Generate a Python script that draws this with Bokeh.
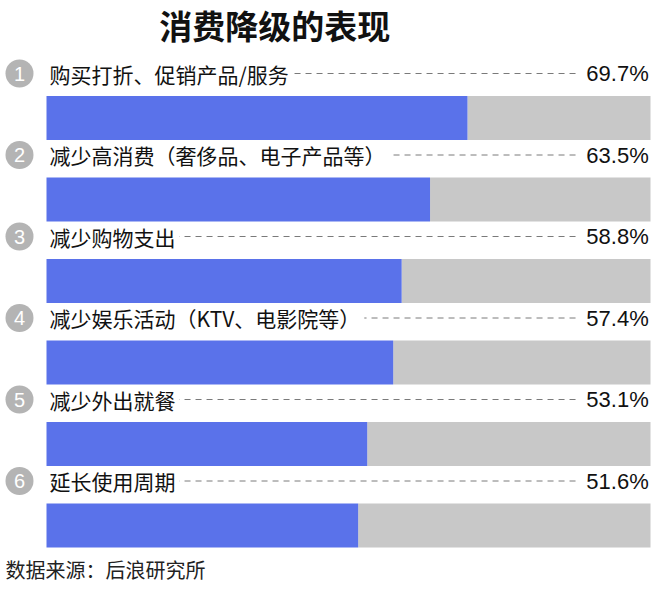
from bokeh.plotting import figure
from bokeh.models import Range1d, ColumnDataSource
from bokeh.core.properties import value
from bokeh.embed import file_html
from bokeh.resources import INLINE

title = "消费降级的表现"
labels = ["购买打折、促销产品/服务", "减少高消费（奢侈品、电子产品等）", "减少购物支出",
          "减少娱乐活动（KTV、电影院等）", "减少外出就餐", "延长使用周期"]
values = [69.7, 63.5, 58.8, 57.4, 53.1, 51.6]
value_labels = ["69.7%", "63.5%", "58.8%", "57.4%", "53.1%", "51.6%"]
ranks = ["1", "2", "3", "4", "5", "6"]
source_note = "数据来源：后浪研究所"

CJK = value("Noto Sans CJK SC")
n = len(labels)
idx = list(range(n))
label_off = 0.546

src = ColumnDataSource(dict(
    y=idx,
    ly=[i - label_off for i in idx],
    v=values,
    full=[100] * n,
    lab=labels,
    vl=value_labels,
    rk=ranks,
))

p = figure(width=652, height=585, output_backend="svg", toolbar_location=None,
           x_range=Range1d(-7.616, 100.331), y_range=Range1d(5.736, -1.4417),
           min_border=0, outline_line_color=None, background_fill_color="white",
           border_fill_color="white")
p.axis.visible = False
p.grid.visible = False

# dashed leader lines
p.segment(x0=1, x1=88.4, y0="ly", y1="ly", line_color="#7a7a7a", line_width=1,
          line_dash="6 5", source=src)

# labels
p.text(x=-0.17, y="ly", text="lab", text_align="left", text_baseline="middle",
       text_color="#111111", text_font=CJK, text_font_size="21px",
       background_fill_color="white", padding=(4, 0), source=src)

# values
p.text(x=99.7, y="ly", text="vl", text_align="right", text_baseline="middle",
       text_color="#111111", text_font=value("Liberation Sans"), text_font_size="22px",
       source=src)

# bars
p.hbar(y="y", left="v", right="full", height=0.54, fill_color="#c8c8c8", line_color=None, source=src)
p.hbar(y="y", left=0, right="v", height=0.54, fill_color="#5a72ea", line_color=None, source=src)

# rank circles
p.scatter(x=-4.47, y="ly", size=28, fill_color="#b4b4b4", line_color=None, source=src)
p.text(x=-4.47, y="ly", text="rk", text_align="center", text_baseline="middle",
       text_color="white", text_font=value("Liberation Sans"), text_font_size="20px", source=src)

# title
p.text(x=[37.8], y=[-1.135], text=[title], text_align="center", text_baseline="middle",
       text_color="#111111", text_font=CJK, text_font_size="33px", text_font_style="bold")

# source note
p.text(x=[-6.79], y=[5.54], text=[source_note], text_align="left", text_baseline="middle",
       text_color="#222222", text_font=CJK, text_font_size="20px")

open("out.html", "w").write(file_html(p, INLINE))
